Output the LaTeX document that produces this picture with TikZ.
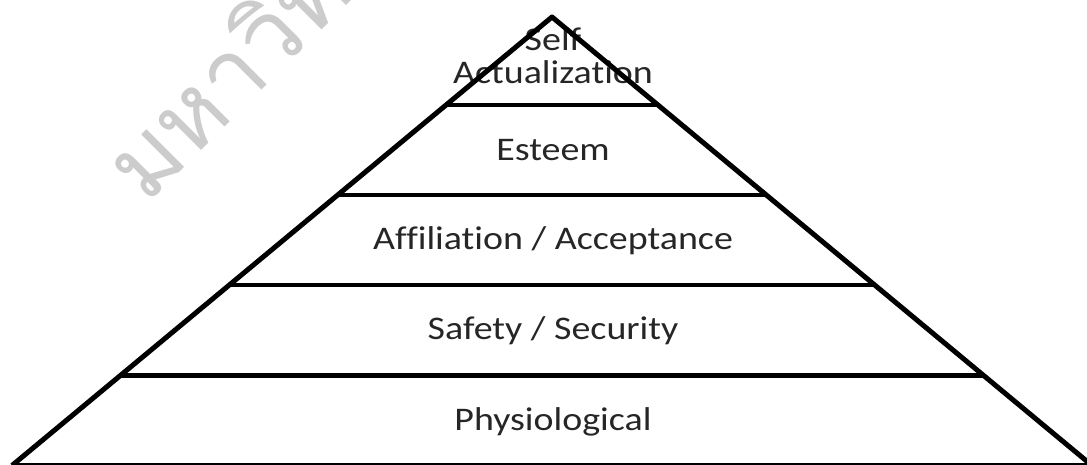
\documentclass[tikz,border=0pt]{standalone}
\usepackage{fontspec}
\setmainfont{Carlito}[Ligatures=NoCommon]
\newfontfamily\thaifont[Script=Thai]{Loma}
\begin{document}
\begin{tikzpicture}[x=1pt,y=-1pt,
  edge/.style={line width=5pt, line join=round},
  tier/.style={line width=4.5pt},
  label/.style={text=black!85, font=\fontsize{33}{33}\selectfont, xscale=1.15,
    anchor=base, inner sep=0pt},
  watermark/.style={text=black!20, font=\thaifont\fontsize{96}{96}\selectfont,
    rotate=45, anchor=base west, inner sep=0pt}]
\useasboundingbox (0,0) rectangle (1087,464);
\clip (0,0) rectangle (1087,464);

% watermark
\node[watermark] (wm) at (146,206) {มหาวิทยาลัย};

% corners of the pyramid
\coordinate (apex) at (552,17);
\coordinate (bl) at (12,465.5);
\coordinate (br) at (1092,465.5);

% tier labels
\node[label] (self) at (553,50) {Self};
\node[label] (actual) at (553,83) {Actualization};
\node[label] (esteem) at (553,160) {Esteem};
\node[label] (affil) at (553,249) {Affiliation / Acceptance};
\node[label] (safety) at (553,339) {Safety / Security};
\node[label] (phys) at (553,430) {Physiological};

% dividing lines between tiers, cut at the sides
\begin{scope}
  \clip (apex) -- (bl) -- (br) -- cycle;
  \foreach \y in {105,195,285,375.5} \draw[tier] (0,\y) -- (1087,\y);
\end{scope}

% outline
\draw[edge] (bl) -- (apex) -- (br);
\draw[tier] (bl) -- (br);
\end{tikzpicture}
\end{document}
